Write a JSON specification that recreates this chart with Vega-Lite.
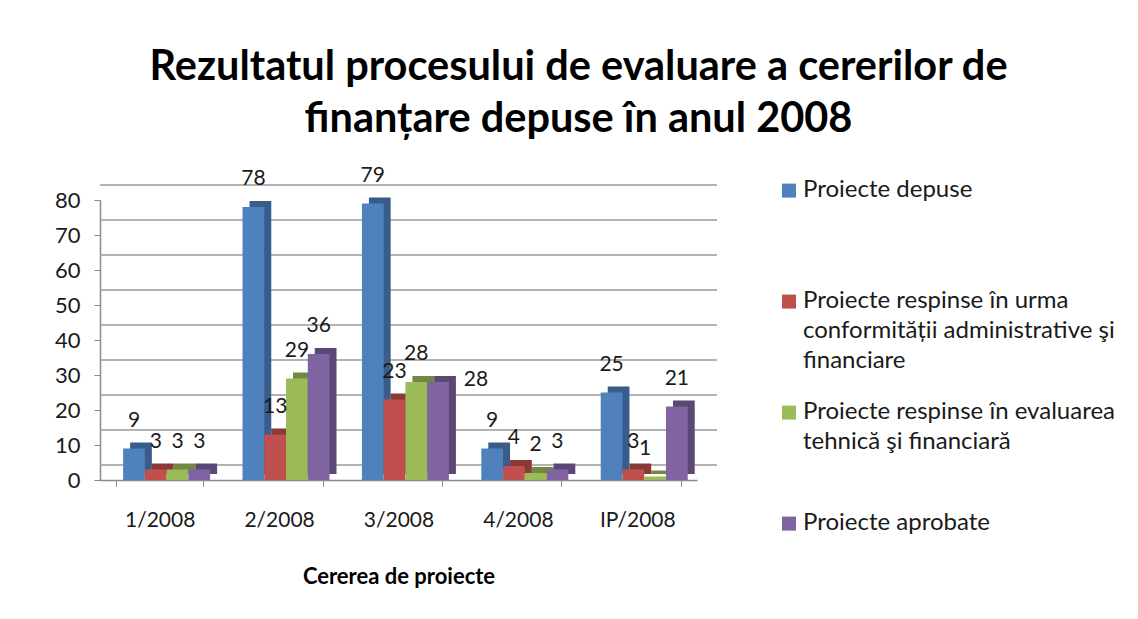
{
  "$schema": "https://vega.github.io/schema/vega-lite/v6.json",
  "width": 597,
  "height": 280,
  "autosize": {"type": "none"},
  "padding": {"left": 100, "top": 200, "right": 441, "bottom": 139},
  "background": "white",
  "title": {
    "text": ["Rezultatul procesului de evaluare a cererilor de", "finanțare depuse în anul 2008"],
    "font": "Lato",
    "fontSize": 41.5,
    "fontWeight": "bold",
    "color": "#000000",
    "anchor": "middle",
    "dx": 180,
    "lineHeight": 52,
    "offset": 24
  },
  "config": {
    "view": {"stroke": null},
    "font": "Lato",
    "style": {"guide-label": {"lineHeight": 30}}
  },
  "datasets": {
    "bars": [
      {"cerere": "1/2008", "serie": "Proiecte depuse", "valoare": 9},
      {"cerere": "1/2008", "serie": "Proiecte respinse în urma conformității administrative şi financiare", "valoare": 3},
      {"cerere": "1/2008", "serie": "Proiecte respinse în evaluarea tehnică şi financiară", "valoare": 3},
      {"cerere": "1/2008", "serie": "Proiecte aprobate", "valoare": 3},
      {"cerere": "2/2008", "serie": "Proiecte depuse", "valoare": 78},
      {"cerere": "2/2008", "serie": "Proiecte respinse în urma conformității administrative şi financiare", "valoare": 13},
      {"cerere": "2/2008", "serie": "Proiecte respinse în evaluarea tehnică şi financiară", "valoare": 29},
      {"cerere": "2/2008", "serie": "Proiecte aprobate", "valoare": 36},
      {"cerere": "3/2008", "serie": "Proiecte depuse", "valoare": 79},
      {"cerere": "3/2008", "serie": "Proiecte respinse în urma conformității administrative şi financiare", "valoare": 23},
      {"cerere": "3/2008", "serie": "Proiecte respinse în evaluarea tehnică şi financiară", "valoare": 28},
      {"cerere": "3/2008", "serie": "Proiecte aprobate", "valoare": 28},
      {"cerere": "4/2008", "serie": "Proiecte depuse", "valoare": 9},
      {"cerere": "4/2008", "serie": "Proiecte respinse în urma conformității administrative şi financiare", "valoare": 4},
      {"cerere": "4/2008", "serie": "Proiecte respinse în evaluarea tehnică şi financiară", "valoare": 2},
      {"cerere": "4/2008", "serie": "Proiecte aprobate", "valoare": 3},
      {"cerere": "IP/2008", "serie": "Proiecte depuse", "valoare": 25},
      {"cerere": "IP/2008", "serie": "Proiecte respinse în urma conformității administrative şi financiare", "valoare": 3},
      {"cerere": "IP/2008", "serie": "Proiecte respinse în evaluarea tehnică şi financiară", "valoare": 1},
      {"cerere": "IP/2008", "serie": "Proiecte aprobate", "valoare": 21}
    ],
    "grid": [
      {"v": 0}, {"v": 10}, {"v": 20}, {"v": 30}, {"v": 40},
      {"v": 50}, {"v": 60}, {"v": 70}, {"v": 80}
    ]
  },
  "layer": [
    {
      "data": {"name": "grid"},
      "mark": {"type": "rule", "color": "#9a9a9a", "strokeWidth": 1.5, "xOffset": 20, "yOffset": -15},
      "encoding": {
        "y": {"field": "v", "type": "quantitative", "scale": {"domain": [0, 80], "nice": false},
              "axis": {"values": [0, 10, 20, 30, 40, 50, 60, 70, 80], "title": null, "grid": false, "labelFontSize": 22, "labelColor": "#1a1a1a",
                       "labelPadding": 14, "tickSize": 6, "tickColor": "#8a8a8a", "domainColor": "#8a8a8a", "domainWidth": 1.5}}
      }
    },
    {
      "data": {"name": "bars"},
      "mark": {"type": "bar", "yOffset": -6, "y2Offset": -6},
      "encoding": {
        "x": {"field": "cerere", "type": "nominal", "sort": ["1/2008", "2/2008", "3/2008", "4/2008", "IP/2008"],
              "scale": {"paddingInner": 0.27, "paddingOuter": 0.135},
              "title": "Cererea de proiecte",
              "axis": {"labelAngle": 0, "labelFontSize": 21, "labelColor": "#1a1a1a", "labelPadding": 23,
                       "tickBand": "extent", "tickSize": 6, "tickColor": "#8a8a8a", "domainColor": "#8a8a8a", "domainWidth": 1.5,
                       "titleFontSize": 22, "titleFontWeight": "bold", "titleColor": "#000000", "titlePadding": 36, "grid": false}},
        "xOffset": {"field": "serie", "type": "nominal",
                    "sort": ["Proiecte depuse", "Proiecte respinse în urma conformității administrative şi financiare", "Proiecte respinse în evaluarea tehnică şi financiară", "Proiecte aprobate"],
                    "scale": {"range": [14, 101]}},
        "y": {"field": "valoare", "type": "quantitative", "scale": {"domain": [0, 80], "nice": false},
              "axis": {"values": [0, 10, 20, 30, 40, 50, 60, 70, 80], "title": null, "grid": false, "labelFontSize": 22, "labelColor": "#1a1a1a",
                       "labelPadding": 14, "tickSize": 6, "tickColor": "#8a8a8a", "domainColor": "#8a8a8a", "domainWidth": 1.5}},
        "color": {"field": "serie", "type": "nominal",
                  "scale": {"domain": ["Proiecte depuse", "Proiecte respinse în urma conformității administrative şi financiare", "Proiecte respinse în evaluarea tehnică şi financiară", "Proiecte aprobate"],
                            "range": ["#385D8A", "#8C3836", "#71893F", "#5C4776"]},
                  "legend": null}
      }
    },
    {
      "data": {"name": "bars"},
      "mark": {"type": "bar"},
      "encoding": {
        "x": {"field": "cerere", "type": "nominal", "sort": ["1/2008", "2/2008", "3/2008", "4/2008", "IP/2008"],
              "scale": {"paddingInner": 0.27, "paddingOuter": 0.135},
              "title": "Cererea de proiecte",
              "axis": {"labelAngle": 0, "labelFontSize": 21, "labelColor": "#1a1a1a", "labelPadding": 23,
                       "tickBand": "extent", "tickSize": 6, "tickColor": "#8a8a8a", "domainColor": "#8a8a8a", "domainWidth": 1.5,
                       "titleFontSize": 22, "titleFontWeight": "bold", "titleColor": "#000000", "titlePadding": 36, "grid": false}},
        "xOffset": {"field": "serie", "type": "nominal",
                    "sort": ["Proiecte depuse", "Proiecte respinse în urma conformității administrative şi financiare", "Proiecte respinse în evaluarea tehnică şi financiară", "Proiecte aprobate"],
                    "scale": {"range": [7, 94]}},
        "y": {"field": "valoare", "type": "quantitative", "scale": {"domain": [0, 80], "nice": false},
              "axis": {"values": [0, 10, 20, 30, 40, 50, 60, 70, 80], "title": null, "grid": false, "labelFontSize": 22, "labelColor": "#1a1a1a",
                       "labelPadding": 14, "tickSize": 6, "tickColor": "#8a8a8a", "domainColor": "#8a8a8a", "domainWidth": 1.5}},
        "color": {"field": "serie", "type": "nominal",
                  "scale": {"domain": ["Proiecte depuse", "Proiecte respinse în urma conformității administrative şi financiare", "Proiecte respinse în evaluarea tehnică şi financiară", "Proiecte aprobate"],
                            "range": ["#4F81BD", "#C0504D", "#9BBB59", "#8064A2"]},
                  "legend": {"title": null, "orient": "none", "legendX": 677, "legendY": -34, "padding": 0,
                             "labelFontSize": 24, "labelColor": "#1a1a1a", "labelBaseline": "top", "labelLimit": 500, "labelOffset": 2,
                             "symbolType": "M-1,0.8H1V2.8H-1Z", "symbolSize": 196, "symbolStrokeWidth": 0, "rowPadding": 15,
                             "labelExpr": "datum.value == 'Proiecte depuse' ? ['Proiecte depuse', '', ''] : datum.value == 'Proiecte aprobate' ? ['Proiecte aprobate', '', ''] : indexof(datum.value, 'urma') > 0 ? ['Proiecte respinse în urma', 'conformității administrative şi', 'financiare'] : ['Proiecte respinse în evaluarea', 'tehnică şi financiară', '']"}}
      }
    },
    {
      "data": {"name": "bars"},
      "mark": {"type": "text", "baseline": "bottom", "fontSize": 21, "color": "#1a1a1a",
               "dx": {"expr": "datum.cerere == '3/2008' && datum.serie == 'Proiecte aprobate' ? 38 : (datum.cerere == 'IP/2008' && datum.valoare == 1 ? -10 : 0)"},
               "dy": {"expr": "datum.cerere == '3/2008' && datum.serie == 'Proiecte aprobate' ? 8 : -18"}},
      "encoding": {
        "x": {"field": "cerere", "type": "nominal", "sort": ["1/2008", "2/2008", "3/2008", "4/2008", "IP/2008"],
              "scale": {"paddingInner": 0.27, "paddingOuter": 0.135},
              "title": "Cererea de proiecte",
              "axis": {"labelAngle": 0, "labelFontSize": 21, "labelColor": "#1a1a1a", "labelPadding": 23,
                       "tickBand": "extent", "tickSize": 6, "tickColor": "#8a8a8a", "domainColor": "#8a8a8a", "domainWidth": 1.5,
                       "titleFontSize": 22, "titleFontWeight": "bold", "titleColor": "#000000", "titlePadding": 36, "grid": false}},
        "xOffset": {"field": "serie", "type": "nominal",
                    "sort": ["Proiecte depuse", "Proiecte respinse în urma conformității administrative şi financiare", "Proiecte respinse în evaluarea tehnică şi financiară", "Proiecte aprobate"],
                    "scale": {"range": [7, 94]}},
        "y": {"field": "valoare", "type": "quantitative", "scale": {"domain": [0, 80], "nice": false},
              "axis": {"values": [0, 10, 20, 30, 40, 50, 60, 70, 80], "title": null, "grid": false, "labelFontSize": 22, "labelColor": "#1a1a1a",
                       "labelPadding": 14, "tickSize": 6, "tickColor": "#8a8a8a", "domainColor": "#8a8a8a", "domainWidth": 1.5}},
        "text": {"field": "valoare", "type": "quantitative"}
      }
    }
  ],
  "resolve": {"scale": {"xOffset": "independent", "color": "independent"}}
}
